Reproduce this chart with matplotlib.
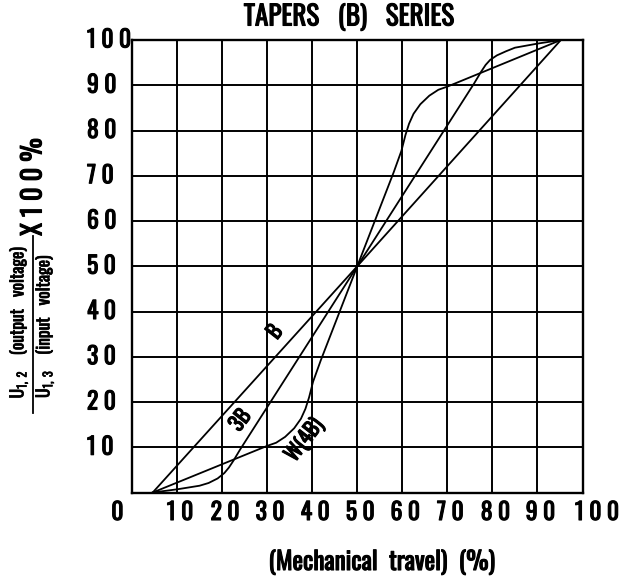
import matplotlib
matplotlib.use("Agg")
import matplotlib.pyplot as plt
from matplotlib.lines import Line2D
import matplotlib.patheffects as pe

FONT = ['Oswald', 'Liberation Sans Narrow', 'DejaVu Sans']
plt.rcParams['font.family'] = FONT
plt.rcParams['font.weight'] = 'bold'
plt.rcParams['mathtext.fontset'] = 'custom'
plt.rcParams['mathtext.rm'] = 'Oswald:bold'
plt.rcParams['mathtext.it'] = 'Oswald:bold'
plt.rcParams['mathtext.bf'] = 'Oswald:bold'

# ---- data ----
x_tick_values = [0, 10, 20, 30, 40, 50, 60, 70, 80, 90, 100]
x_tick_labels = ["0", "1 0", "2 0", "3 0", "4 0", "5 0", "6 0", "7 0", "8 0", "9 0", "1 0 0"]
y_tick_values = [10, 20, 30, 40, 50, 60, 70, 80, 90, 100]
y_tick_labels = ["1 0", "2 0", "3 0", "4 0", "5 0", "6 0", "7 0", "8 0", "9 0", "1 0 0"]

b_x = [4.6, 50, 95.2]
b_y = [0, 50, 100]

b3_x = [4.6, 10, 15, 17, 19, 20.5, 21.5, 22.5, 24, 50, 76, 77.5, 78.5, 79.5, 81, 83, 85, 90, 95.2]
b3_y = [0, 0.7, 1.5, 2.1, 3.1, 4.3, 5.5, 7.0, 9.5, 50, 90.5, 93.0, 94.5, 95.6, 96.6, 97.5, 98.3, 99.2, 100]

w_x = [4.6, 30, 32, 34, 36, 37.5, 38.5, 39.3, 40.2, 41.9, 50, 58.1, 59.8, 60.7, 61.5, 62.5, 64, 66, 68, 70, 95.2]
w_y = [0, 10.3, 11.0, 12.3, 14.2, 16.3, 18.5, 21, 24.5, 29.2, 50, 70.8, 75.5, 79, 81.5, 83.7, 85.8, 87.7, 89.0, 89.7, 100]

curve_labels = ["B", "3B", "W(4B)"]
curve_label_x = [31.7, 24.0, 38.3]
curve_label_y = [35.5, 16.0, 11.6]

title = "TAPERS   (B)   SERIES"
xlabel = "(Mechanical  travel)  (%)"

BOLD = [pe.withStroke(linewidth=0.8, foreground='black')]
THIN = [pe.withStroke(linewidth=0.5, foreground='black')]

# ---- figure ----
W, H = 629, 579
fig = plt.figure(figsize=(W / 100, H / 100), dpi=100)
ax = fig.add_axes([132 / W, 1 - 492.5 / H, 450.5 / W, 452.5 / H])
ax.set_xlim(0, 100)
ax.set_ylim(0, 100)
ax.set_xticks(x_tick_values)
ax.set_yticks([0] + y_tick_values)
ax.grid(True, color='black', lw=1.4)
ax.tick_params(length=0, labelbottom=False, labelleft=False)
for s in ax.spines.values():
    s.set_linewidth(1.7)

for xs, ys in [(b_x, b_y), (b3_x, b3_y), (w_x, w_y)]:
    ax.plot(xs, ys, color='black', lw=1.3, zorder=3)

for lab, lx, ly in zip(curve_labels, curve_label_x, curve_label_y):
    ax.text(lx, ly, lab, rotation=52, ha='center', va='center',
            fontsize=15, fontweight='bold', zorder=4,
            rotation_mode='anchor', path_effects=BOLD)

# tick labels
for v, lab in zip(x_tick_values, x_tick_labels):
    dx = -14.6 if v == 0 else (14.5 if v == 100 else 3)
    ax.annotate(lab, xy=(v, 0), xycoords='data', xytext=(dx, -20),
                textcoords='offset pixels', ha='center', va='center',
                fontsize=17, fontweight='bold', path_effects=BOLD)
for v, lab in zip(y_tick_values, y_tick_labels):
    ax.annotate(lab, xy=(0, v), xycoords='data', xytext=(-45, 0),
                textcoords='offset pixels', ha='left', va='center',
                fontsize=17, fontweight='bold', path_effects=BOLD)

fig.text(349.5 / W, 1 - 17.5 / H, title, ha='center', va='center',
         fontsize=19.5, fontweight='bold', path_effects=BOLD)
fig.text(382 / W, 1 - 562 / H, xlabel, ha='center', va='center',
         fontsize=18, fontweight='bold', path_effects=BOLD)

# y-axis label as a fraction
fig.text(19 / W, 1 - 322 / H, r"U$_{1,\ 2}$    (output   voltage)", rotation=90,
         ha='center', va='center', fontsize=12.5, fontweight='bold',
         path_effects=THIN)
fig.add_artist(Line2D([33 / W, 33 / W], [1 - 236 / H, 1 - 413 / H],
                      transform=fig.transFigure, color='black', lw=1.3))
fig.text(45 / W, 1 - 326 / H, r"U$_{1,\ 3}$    (input   voltage)", rotation=90,
         ha='center', va='center', fontsize=12.5, fontweight='bold',
         path_effects=THIN)
fig.text(33 / W, 1 - 187 / H, "X 1 0 0 %", rotation=90,
         ha='center', va='center', fontsize=19, fontweight='bold',
         path_effects=BOLD)

fig.savefig("out.png", dpi=100)
